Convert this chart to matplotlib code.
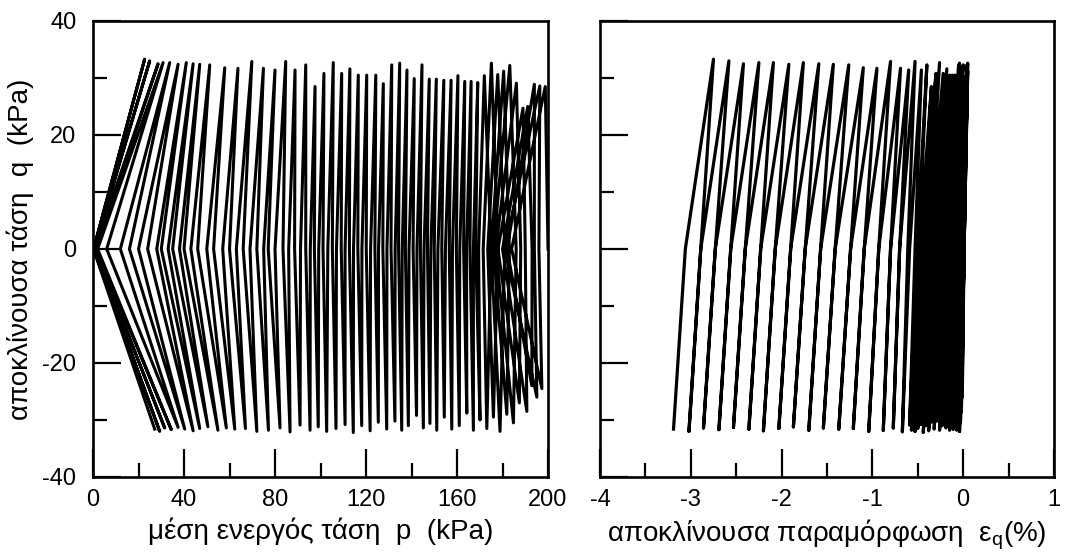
import matplotlib
matplotlib.use("Agg")
import matplotlib.pyplot as plt
from matplotlib.ticker import MultipleLocator

plt.rcParams["font.family"] = ["Liberation Sans Narrow", "Liberation Sans", "DejaVu Sans"]
plt.rcParams["mathtext.fontset"] = "custom"
plt.rcParams["mathtext.rm"] = "Liberation Sans Narrow"
plt.rcParams["axes.unicode_minus"] = False

# ---- cyclic undrained test: turning points of each load cycle ----
# mean effective stress p (kPa) at the positive / negative deviator peaks
p_top = [198.8, 196.4, 194.0, 191.1, 189.0, 186.1, 183.2, 180.5, 177.9, 175.1,
         172.0, 169.1, 166.2, 163.4, 160.4, 157.4, 154.2, 150.9, 147.8, 144.6,
         141.2, 138.0, 134.8, 131.3, 127.6, 124.3, 120.3, 116.6, 112.9, 109.3,
         105.6, 101.5, 97.6, 93.5, 88.8, 84.7, 80.0, 74.9, 69.8, 63.7,
         57.9, 51.3, 46.9, 44.0, 41.0, 37.4, 33.7, 30.8, 28.6, 24.9, 22.7]
p_bot = [197.3, 195.1, 192.9, 190.7, 187.4, 184.8, 181.9, 178.9, 176.0, 173.1,
         170.1, 167.2, 164.3, 161.0, 157.7, 154.4, 151.1, 148.1, 145.2, 142.2,
         138.6, 135.7, 132.7, 129.1, 125.4, 121.8, 118.1, 114.4, 110.8, 106.8,
         102.7, 99.0, 95.4, 91.0, 86.6, 82.2, 77.1, 72.0, 67.0, 62.3,
         58.6, 54.9, 50.5, 46.9, 44.0, 40.3, 37.4, 34.4, 31.5, 29.3, 27.1]
# p where the unloading (top->bottom) and reloading (bottom->next top) branches cross q = 0
p_zero_dn = [184.0, 181.0, 182.0, 180.0, 178.0, 177.0, 176.0, 175.0, 173.5, 171.5,
             169.5, 167.2, 164.2, 161.2, 158.0, 154.9, 151.6, 148.5, 145.5, 142.4,
             138.9, 135.9, 132.8, 129.2, 125.5, 122.0, 118.2, 114.5, 110.8, 107.0,
             103.2, 99.2, 95.5, 91.2, 86.0, 80.0, 75.0, 69.0, 63.0, 57.0,
             50.0, 43.0, 38.0, 33.0, 28.0, 20.0, 12.0, 2.0, 0.8, 0.4, 0.2]
p_zero_up = [196.0, 194.0, 193.0, 190.0, 188.0, 186.0, 183.0, 181.0, 178.0, 175.0,
             168.2, 165.7, 162.9, 159.7, 156.6, 153.3, 150.0, 147.0, 143.9, 140.7,
             137.3, 134.3, 131.0, 127.4, 123.9, 120.1, 116.4, 112.7, 109.1, 105.2,
             101.1, 97.3, 93.5, 88.6, 83.5, 77.0, 72.0, 66.0, 60.0, 53.0,
             46.0, 40.0, 35.0, 30.0, 24.0, 16.0, 6.0, 1.5, 0.6, 0.3]

# deviator stress q (kPa) at the peaks
q_top = [28.5, 28.6, 28.9, 25.0, 24.7, 29.1, 32.2, 31.2, 30.6, 32.6,
         30.4, 29.2, 29.4, 29.4, 30.4, 29.6, 29.6, 29.8, 29.8, 32.3,
         29.9, 31.4, 32.6, 32.3, 29.0, 30.5, 30.5, 30.5, 31.6, 30.8,
         32.7, 30.8, 28.5, 32.3, 31.4, 32.9, 31.4, 31.7, 32.9, 31.7,
         31.8, 32.3, 32.4, 32.5, 32.7, 32.4, 32.7, 32.7, 32.5, 33.0, 33.3]
q_bot = [-24.5, -26.0, -24.0, -28.5, -27.0, -30.5, -29.0, -32.0, -29.5, -31.5,
         -30.0, -31.8, -28.8, -31.0, -31.6, -29.5, -31.8, -30.6, -31.4, -29.2,
         -31.0, -31.8, -30.2, -31.6, -30.4, -31.9, -31.0, -32.2, -30.8, -31.5,
         -32.0, -31.2, -31.8, -30.9, -32.1, -31.4, -31.8, -32.0, -31.5, -31.6,
         -31.4, -31.8, -31.2, -31.5, -31.9, -31.6, -31.3, -31.7, -31.4, -32.0, -31.6]

# deviatoric strain eq (%) at the peaks and at the q = 0 crossings
e_top = [0.01, 0.02, 0.03, 0.03, 0.04, 0.04, 0.04, 0.05, 0.04, 0.05,
         0.04, 0.04, 0.03, 0.04, 0.03, 0.02, 0.02, 0.01, 0.00, 0.00,
         -0.01, -0.02, -0.04, -0.05, -0.07, -0.09, -0.12, -0.15, -0.18, -0.22,
         -0.26, -0.30, -0.35, -0.40, -0.46, -0.53, -0.60, -0.69, -0.80, -0.95,
         -1.10, -1.26, -1.43, -1.59, -1.76, -1.92, -2.09, -2.25, -2.42, -2.58, -2.75]
e_bot = [-0.01, -0.01, -0.02, -0.02, -0.02, -0.03, -0.03, -0.04, -0.05, -0.05,
         -0.06, -0.07, -0.08, -0.10, -0.11, -0.13, -0.15, -0.17, -0.19, -0.21,
         -0.23, -0.26, -0.29, -0.32, -0.35, -0.38, -0.41, -0.44, -0.47, -0.50,
         -0.53, -0.55, -0.57, -0.59, -0.67, -0.77, -0.88, -1.04, -1.21, -1.37,
         -1.54, -1.70, -1.87, -2.03, -2.20, -2.36, -2.53, -2.69, -2.86, -3.02, -3.19]
e_zero_dn = [0.00, 0.00, 0.00, 0.00, 0.01, 0.00, 0.00, 0.00, -0.01, -0.01,
             -0.02, -0.03, -0.04, -0.04, -0.05, -0.07, -0.08, -0.10, -0.11, -0.13,
             -0.14, -0.16, -0.19, -0.21, -0.24, -0.26, -0.29, -0.32, -0.35, -0.39,
             -0.42, -0.45, -0.48, -0.51, -0.59, -0.70, -0.80, -0.93, -1.09, -1.24,
             -1.41, -1.57, -1.74, -1.90, -2.07, -2.23, -2.40, -2.56, -2.73, -2.89, -3.06]
e_zero_up = [0.00, 0.01, 0.00, 0.01, 0.01, 0.00, 0.01, 0.00, 0.00, -0.01,
             -0.01, -0.02, -0.02, -0.04, -0.05, -0.06, -0.07, -0.09, -0.10, -0.11,
             -0.13, -0.15, -0.17, -0.20, -0.22, -0.25, -0.28, -0.31, -0.35, -0.38,
             -0.42, -0.45, -0.49, -0.53, -0.61, -0.70, -0.80, -0.93, -1.09, -1.24,
             -1.41, -1.57, -1.74, -1.90, -2.07, -2.23, -2.40, -2.56, -2.73, -2.89]

p_start, e_start = 200.0, 0.0

x_ticks_p = [0, 40, 80, 120, 160, 200]
x_ticks_e = [-4, -3, -2, -1, 0, 1]
y_ticks_q = [-40, -20, 0, 20, 40]


def load_path(x_top, x_bot, x_zdn, x_zup, x0):
    """Chain the turning points of every cycle into one continuous path."""
    xs, qs = [x0], [0.0]
    for k in range(len(x_top)):
        xs += [x_top[k], x_zdn[k], x_bot[k]]
        qs += [q_top[k], 0.0, q_bot[k]]
        if k < len(x_zup):
            xs.append(x_zup[k])
            qs.append(0.0)
    return xs, qs


fig = plt.figure(figsize=(10.67, 5.58), dpi=100)
axL = fig.add_axes([0.0872, 0.1452, 0.4264, 0.8172])
axR = fig.add_axes([0.5623, 0.1452, 0.4255, 0.8172])

px, pq = load_path(p_top, p_bot, p_zero_dn, p_zero_up, p_start)
ex, eq = load_path(e_top, e_bot, e_zero_dn, e_zero_up, e_start)

axL.plot(px, pq, color="black", lw=2.2, solid_joinstyle="round")
axR.plot(ex, eq, color="black", lw=2.3, solid_joinstyle="round")

tick_font = 17
for ax in (axL, axR):
    ax.set_ylim(-40, 40)
    ax.yaxis.set_major_locator(MultipleLocator(20))
    ax.yaxis.set_minor_locator(MultipleLocator(10))
    for s in ax.spines.values():
        s.set_linewidth(1.9)
    ax.tick_params(which="both", direction="in", top=False, right=False,
                   width=1.6, labelsize=tick_font)
    ax.tick_params(which="major", length=20)
    ax.tick_params(which="minor", length=10)
    ax.tick_params(axis="x", pad=9)
    ax.tick_params(axis="y", pad=12)

axL.set_xlim(0, 200)
axL.set_xticks(x_ticks_p)
axL.xaxis.set_minor_locator(MultipleLocator(20))
axL.set_yticks(y_ticks_q)
axL.set_xlabel("μέση ενεργός τάση  p  (kPa)", fontsize=20, labelpad=4)
axL.set_ylabel("αποκλίνουσα τάση  q  (kPa)", fontsize=20, labelpad=6)

axR.set_xlim(-4, 1)
axR.set_xticks(x_ticks_e)
axR.xaxis.set_minor_locator(MultipleLocator(0.5))
axR.set_yticks(y_ticks_q)
axR.tick_params(axis="y", labelleft=False)
axR.set_xlabel(r"αποκλίνουσα παραμόρφωση  ε$_{\mathregular{q}}$(%)", fontsize=20, labelpad=4)

fig.savefig("out.png", dpi=100)
